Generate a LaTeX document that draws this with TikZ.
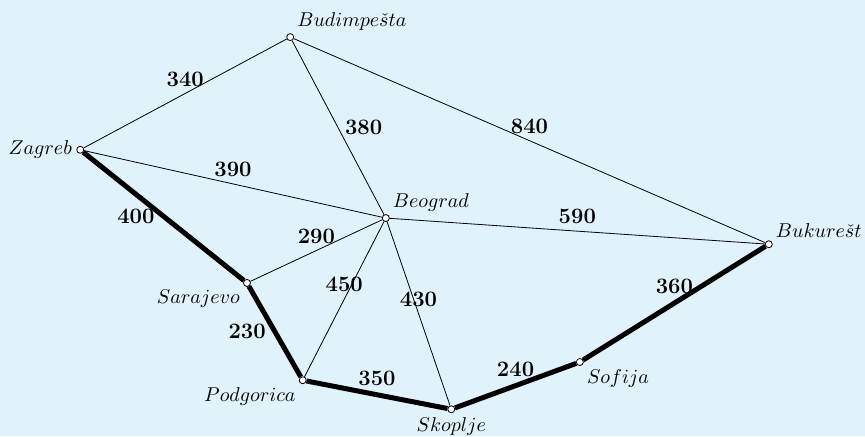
\documentclass[tikz,border=0pt]{standalone}
\usepackage[compat=1.1.0]{tikz-feynman}

\definecolor{mapbg}{RGB}{224,242,250}
\tikzset{
  city/.style={shape=circle, draw=black, fill=white, inner sep=0pt, minimum size=3.5pt},
  route/.style={line width=2.5pt},
  weight/.style={font=\fontsize{11}{13}\selectfont\bfseries},
  every label/.style={inner sep=2pt},
}

\begin{document}
\begin{tikzpicture}
  \path [use as bounding box, fill=mapbg] (0,0) rectangle (432.5pt,218pt);
          \begin{feynman}
            \vertex [city, label=above right:$Budimpe\check{s}ta$] (bud) at (5.10,7.01) {};
            \vertex [city, label=left:$Zagreb$] (zag) at (1.41,5.03) {};
            \vertex [city, label=above right:$Beograd$] (beo) at (6.78,3.83) {};
            \vertex [city, label=above right:$Bukure\check{s}t$] (buk) at (13.51,3.37) {};
            \vertex [city, label=below left:$Sarajevo$] (sar) at (4.34,2.69) {};
            \vertex [city, label=below left:$Podgorica$] (pod) at (5.32,0.98) {};
            \vertex [city, label=below:$Skoplje$] (sko) at (7.93,0.47) {};
            \vertex [city, label=below right:$Sofija$] (sof) at (10.19,1.30) {};

            \diagram* {
              (zag) -- [edge node={node [weight, above] {340}}] (bud),
              (bud) -- [edge node={node [weight, right] {380}}] (beo),
              (bud) -- [edge node={node [weight, above] {840}}] (buk),
              (zag) -- [edge node={node [weight, above] {390}}] (beo),
              (beo) -- [edge node={node [weight, above] {590}}] (buk),
              (sar) -- [edge node={node [weight, above] {290}}] (beo),
              (pod) -- [edge node={node [weight, above] {450}}] (beo),
              (beo) -- [edge node={node [weight, above] {430}}] (sko),
              (zag) -- [route, edge node={node [weight, left] {400}}] (sar)
                    -- [route, edge node={node [weight, left] {230}}] (pod)
                    -- [route, edge node={node [weight, above] {350}}] (sko)
                    -- [route, edge node={node [weight, above] {240}}] (sof)
                    -- [route, edge node={node [weight, above] {360}}] (buk),
            };
          \end{feynman}
        \end{tikzpicture}
\end{document}
